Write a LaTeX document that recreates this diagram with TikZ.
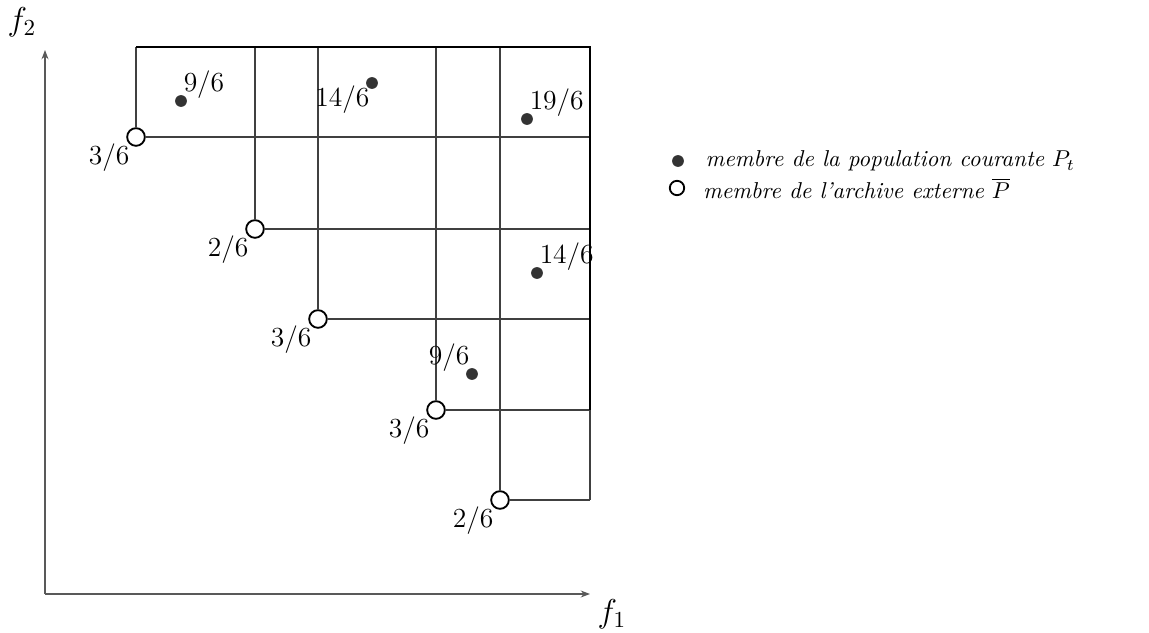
\documentclass[tikz,border=0pt]{standalone}
\usetikzlibrary{positioning,arrows.meta}
\tikzset{
  archive/.style={circle,draw=black,fill=white,line width=0.8pt,inner sep=0pt,minimum size=0.27cm},
  popdot/.style={circle,fill=black!80,inner sep=0pt,minimum size=0.18cm},
  grid/.style={black!75,line width=0.7pt},
  bound/.style={black,line width=1pt},
  axis/.style={black!65,line width=1.1pt,-{Stealth[length=4pt,width=3pt]}},
  val/.style={inner sep=1pt,font=\large}
}
\begin{document}
\begin{tikzpicture}[x=0.0153cm,y=-0.0153cm]
\useasboundingbox (0,0) rectangle (1149,633);
% axes
\coordinate (o) at (45,594);
\draw [axis] (o) -- (45,50);
\draw [axis] (o) -- (590,594);
\node (f2) at (22,22) {\Large $f_2$};
\node (f1) at (612,614) {\Large $f_1$};
% top right corner of the grid
\coordinate (c) at (590,47);
% archive members and their boxes
\foreach \n/\x/\y/\v in {1/136/137/3,2/255/229/2,3/318/319/3,4/436/410/3,5/500/500/2}{
\node [archive] (a\n) at (\x,\y) {};
\node [val,anchor=north east] (la\n) at ([shift={(3,-3)}]a\n.south west) {$\v/6$};
\draw [grid] (a\n) -- (a\n |- c);
\draw [grid] (a\n) -- (a\n -| c);
}
\draw [bound] (a1 |- c) -- (c) -- (c |- a4);
\draw [grid] (c |- a4) -- (c |- a5);
% members of the population
\foreach \n/\x/\y/\v/\p in {1/181/101/9/above right,2/372/83/14/below left,3/527/119/19/above right,4/537/273/14/above right,5/472/374/9/above left}{
\node [popdot] (p\n) at (\x,\y) {};
\node [val,\p=0pt] (lp\n) at (p\n) {$\v/6$};
}
% legend
\node [popdot] (kp) at (678,161) {};
\node [right=2mm of kp] (tp) {\textit{membre de la population courante} $P_t$};
\node [archive,minimum size=0.22cm] (ka) at (677,188) {};
\node [right=1.5mm of ka] (ta) {\textit{membre de l'archive externe} $\overline{P}$};
\end{tikzpicture}
\end{document}
